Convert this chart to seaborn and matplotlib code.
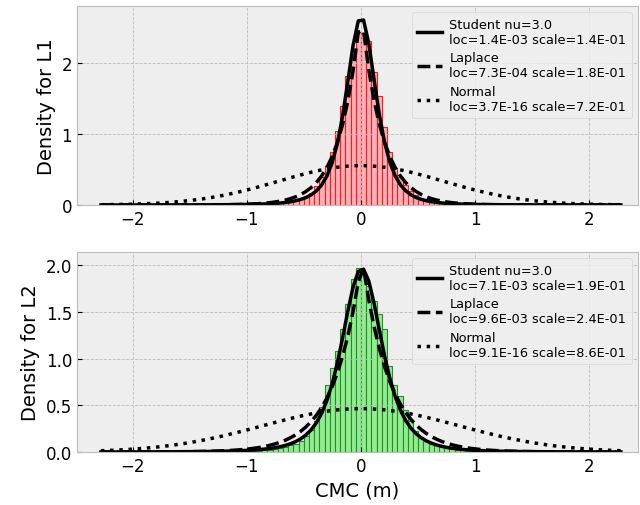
import math
import matplotlib
matplotlib.use("Agg")
import matplotlib.pyplot as plt
import seaborn as sns
import numpy as np
import pandas as pd

# histogram: 100 bins over the data range, density heights
bin_edges = np.linspace(-2.28, 2.28, 101)

tail_l = [0.0] * 24 + [0.002, 0.003, 0.004, 0.005, 0.007, 0.009]
tail_r = [0.009, 0.007, 0.005, 0.004, 0.003, 0.002] + [0.0] * 24

dens_l1 = (tail_l +
           [0.012, 0.015, 0.02, 0.025, 0.03, 0.04, 0.05, 0.07, 0.09, 0.12,
            0.17, 0.27, 0.40, 0.55, 0.75, 1.04, 1.39, 1.82, 2.17, 2.44] +
           [2.42, 2.31, 1.87, 1.54, 1.10, 0.74, 0.52, 0.40, 0.28, 0.20,
            0.14, 0.10, 0.08, 0.06, 0.05, 0.04, 0.03, 0.02, 0.02, 0.015] +
           tail_r)

dens_l2 = (tail_l +
           [0.015, 0.02, 0.025, 0.03, 0.04, 0.055, 0.07, 0.09, 0.12, 0.17,
            0.24, 0.33, 0.48, 0.72, 0.90, 1.08, 1.32, 1.58, 1.85, 1.97] +
           [1.92, 1.78, 1.62, 1.48, 1.32, 0.92, 0.72, 0.60, 0.45, 0.33,
            0.22, 0.16, 0.12, 0.09, 0.07, 0.05, 0.04, 0.03, 0.025, 0.02] +
           tail_r)

# fitted parameters shown in the legends (unrounded estimates)
student_nu = [3.0, 3.0]
student_loc = [1.4e-03, 7.1e-03]
student_scale = [1.39e-01, 1.87e-01]
laplace_loc = [7.3e-04, 9.6e-03]
laplace_scale = [1.8e-01, 2.4e-01]
normal_loc = [3.7e-16, 9.1e-16]
normal_scale = [7.2e-01, 8.6e-01]

ylabels = ["Density for L1", "Density for L2"]
face_colors = ["#ffb0b8", "#90ee90"]
edge_colors = ["#ff1a1a", "#2a8a2a"]
ylims = [(0, 2.8), (0, 2.14)]
yticks = [[0, 1, 2], [0.0, 0.5, 1.0, 1.5, 2.0]]


def t_pdf(x, nu, loc, scale):
    c = math.gamma((nu + 1) / 2) / (math.sqrt(nu * math.pi) * math.gamma(nu / 2))
    z = (x - loc) / scale
    return c / scale * (1 + z ** 2 / nu) ** (-(nu + 1) / 2)


def laplace_pdf(x, loc, scale):
    return np.exp(-np.abs(x - loc) / scale) / (2 * scale)


def normal_pdf(x, loc, scale):
    return np.exp(-0.5 * ((x - loc) / scale) ** 2) / (scale * np.sqrt(2 * np.pi))


plt.style.use("bmh")
plt.rcParams["grid.linestyle"] = "--"
plt.rcParams["grid.color"] = "#bcbcbc"
plt.rcParams["grid.linewidth"] = 0.6
fig = plt.figure(figsize=(6.4, 5.06), dpi=100)
axes = [fig.add_axes([0.1203, 0.5929, 0.8766, 0.3933]),
        fig.add_axes([0.1203, 0.1047, 0.8766, 0.3953])]

centers = (bin_edges[:-1] + bin_edges[1:]) / 2
xs = np.linspace(bin_edges[0], bin_edges[-1], 100)
heights = [dens_l1, dens_l2]

for i, ax in enumerate(axes):
    hist_df = pd.DataFrame({"x": centers, "w": heights[i]})
    sns.histplot(data=hist_df, x="x", weights="w", bins=list(bin_edges), ax=ax,
                 color=face_colors[i], alpha=1, linewidth=0.8, stat="count")
    for p in ax.patches:
        p.set_facecolor(face_colors[i])
        p.set_edgecolor(edge_colors[i])
        p.set_linewidth(0.8)

    lab_t = "Student nu=%.1f\nloc=%.1E scale=%.1E" % (student_nu[i], student_loc[i], student_scale[i])
    lab_l = "Laplace\nloc=%.1E scale=%.1E" % (laplace_loc[i], laplace_scale[i])
    lab_n = "Normal\nloc=%.1E scale=%.1E" % (normal_loc[i], normal_scale[i])
    sns.lineplot(x=xs, y=t_pdf(xs, student_nu[i], student_loc[i], student_scale[i]),
                 ax=ax, color="k", lw=2.5, ls="-", label=lab_t)
    sns.lineplot(x=xs, y=laplace_pdf(xs, laplace_loc[i], laplace_scale[i]),
                 ax=ax, color="k", lw=2.5, ls="--", label=lab_l)
    sns.lineplot(x=xs, y=normal_pdf(xs, normal_loc[i], normal_scale[i]),
                 ax=ax, color="k", lw=2.5, ls=":", label=lab_n)

    ax.set_xlim(-2.49, 2.43)
    ax.set_ylim(*ylims[i])
    ax.set_yticks(yticks[i])
    ax.set_xticks([-2, -1, 0, 1, 2])
    ax.tick_params(direction="in", labelsize=12, top=False, right=False)
    ax.set_ylabel(ylabels[i], fontsize=14)
    ax.set_xlabel("")
    ax.legend(loc="upper right", fontsize=9.3, handlelength=1.9,
              labelspacing=0.45, borderpad=0.4, handletextpad=0.6)

axes[1].set_xlabel("CMC (m)", fontsize=14)

fig.savefig("out.png", dpi=100)
